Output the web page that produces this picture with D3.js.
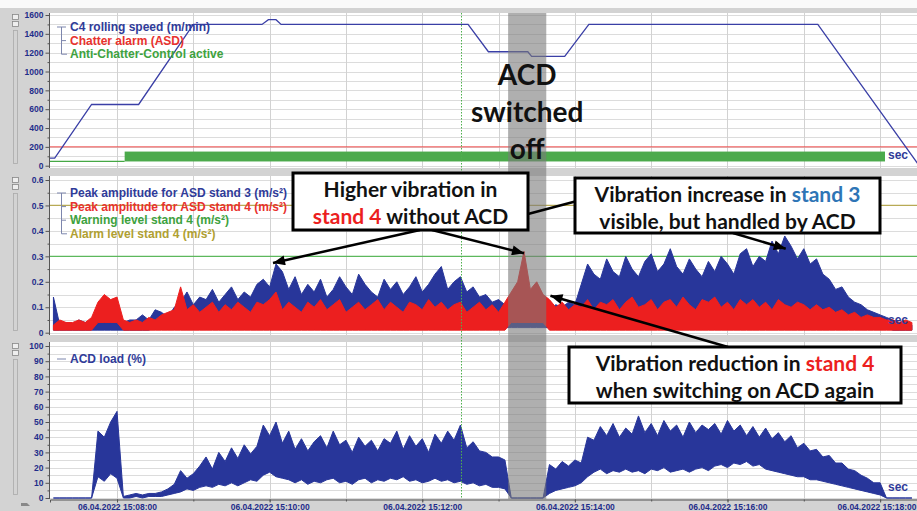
<!DOCTYPE html>
<html>
<head>
<meta charset="utf-8">
<script src="https://cdnjs.cloudflare.com/ajax/libs/d3/7.8.5/d3.min.js"></script>
<style>
  body { margin: 0; background: #fff; }
  svg { display: block; }
  .axis text { font-family: "Liberation Sans", Arial, sans-serif; font-weight: bold; font-size: 8.5px; fill: #1f2d8a; }
  .axis path, .axis line { stroke: #555; }
  .legend { font-family: "Liberation Sans", Arial, sans-serif; font-weight: bold; font-size: 12px; }
  .note { font-family: Lato, "Open Sans", sans-serif; font-weight: bold; }
</style>
</head>
<body>
<script>
const w = 917;
const h = 511;

// all times are seconds after 06.04.2022 15:07:00
const t0 = new Date(2022, 3, 6, 15, 7, 0);
const sec = s => new Date(t0.getTime() + s * 1000);

// ---- panel 1: rolling speed ----
const speedSec = [7, 11, 40, 77, 120, 174, 179, 185, 189, 336, 352, 383, 386, 412, 431, 611, 690];
const speedVal = [80, 80, 650, 650, 1500, 1500, 1550, 1550, 1500, 1500, 1210, 1210, 1160, 1160, 1500, 1500, 15];
const chatterAlarm = 200;
const acdActiveFrom = 66;
const speedTicks = [0, 200, 400, 600, 800, 1000, 1200, 1400, 1600];

// ---- sampled signals (one value every 5 s from 15:07:10) ----
const sampleStart = 10;
const sampleStep = 5;

const stand3Peak = [
  0.14, 0.03, 0.04, 0.03, 0.05, 0.04, 0.04, 0.06, 0.05, 0.04,
  0.06, 0.04, 0.05, 0.05, 0.07, 0.05, 0.09, 0.08, 0.06, 0.10,
  0.12, 0.16, 0.11, 0.14, 0.13, 0.17, 0.12, 0.15, 0.18, 0.13,
  0.16, 0.14, 0.19, 0.21, 0.18, 0.27, 0.24, 0.17, 0.22, 0.15,
  0.19, 0.16, 0.21, 0.14, 0.17, 0.22, 0.18, 0.15, 0.23, 0.19,
  0.16, 0.14, 0.21, 0.17, 0.20, 0.15, 0.18, 0.22, 0.16, 0.19,
  0.23, 0.26, 0.17, 0.20, 0.22, 0.16, 0.18, 0.14, 0.15, 0.12,
  0.13, 0.11, 0.09, 0.10, 0.08, 0.09, 0.10, 0.08, 0.09, 0.11,
  0.10, 0.12, 0.11, 0.19, 0.27, 0.23, 0.21, 0.29, 0.24, 0.22,
  0.30, 0.25, 0.22, 0.28, 0.31, 0.24, 0.27, 0.33, 0.26, 0.23,
  0.29, 0.25, 0.22, 0.28, 0.24, 0.30, 0.27, 0.23, 0.31, 0.33,
  0.26, 0.30, 0.28, 0.36, 0.31, 0.38, 0.34, 0.29, 0.33, 0.27,
  0.29, 0.23, 0.21, 0.17, 0.18, 0.14, 0.12, 0.11, 0.09, 0.08,
  0.07, 0.06, 0.05, 0.04, 0.04, 0.03
];
const stand3Low = [
  0.01, 0.01, 0.01, 0.01, 0.01, 0.01, 0.01, 0.01, 0.01, 0.01,
  0.01, 0.01, 0.01, 0.01, 0.01, 0.01, 0.02, 0.02, 0.02, 0.02,
  0.02, 0.02, 0.02, 0.02, 0.02, 0.02, 0.02, 0.02, 0.02, 0.02,
  0.02, 0.02, 0.02, 0.02, 0.03, 0.03, 0.03, 0.03, 0.03, 0.03,
  0.03, 0.03, 0.03, 0.03, 0.03, 0.03, 0.03, 0.03, 0.03, 0.03,
  0.03, 0.03, 0.03, 0.03, 0.03, 0.03, 0.03, 0.03, 0.03, 0.03,
  0.03, 0.03, 0.03, 0.03, 0.03, 0.03, 0.03, 0.03, 0.03, 0.03,
  0.03, 0.02, 0.02, 0.02, 0.02, 0.02, 0.02, 0.02, 0.02, 0.02,
  0.02, 0.02, 0.02, 0.06, 0.06, 0.06, 0.06, 0.06, 0.06, 0.06,
  0.06, 0.06, 0.06, 0.06, 0.06, 0.06, 0.06, 0.06, 0.06, 0.06,
  0.06, 0.06, 0.06, 0.06, 0.06, 0.06, 0.06, 0.06, 0.06, 0.06,
  0.06, 0.06, 0.06, 0.06, 0.06, 0.06, 0.06, 0.06, 0.06, 0.06,
  0.06, 0.02, 0.02, 0.02, 0.02, 0.02, 0.02, 0.02, 0.02, 0.02,
  0.02, 0.02, 0.01, 0.01, 0.01, 0.01
];
const stand4Peak = [
  0.03, 0.05, 0.04, 0.04, 0.05, 0.04, 0.06, 0.12, 0.15, 0.13,
  0.14, 0.05, 0.04, 0.05, 0.04, 0.06, 0.05, 0.07, 0.08, 0.09,
  0.18, 0.09, 0.11, 0.08, 0.10, 0.12, 0.08, 0.11, 0.09, 0.12,
  0.10, 0.08, 0.12, 0.11, 0.13, 0.16, 0.09, 0.12, 0.10, 0.08,
  0.12, 0.10, 0.13, 0.09, 0.11, 0.13, 0.08, 0.10, 0.12, 0.09,
  0.11, 0.13, 0.09, 0.12, 0.10, 0.08, 0.12, 0.11, 0.09, 0.13,
  0.10, 0.12, 0.09, 0.11, 0.12, 0.08, 0.10, 0.12, 0.09, 0.11,
  0.08, 0.12, 0.16, 0.20, 0.32, 0.17, 0.20, 0.15, 0.13, 0.10,
  0.12, 0.09, 0.11, 0.10, 0.13, 0.09, 0.12, 0.11, 0.13, 0.09,
  0.12, 0.14, 0.10, 0.11, 0.13, 0.09, 0.12, 0.13, 0.10, 0.14,
  0.11, 0.09, 0.13, 0.12, 0.14, 0.10, 0.12, 0.09, 0.13, 0.11,
  0.13, 0.10, 0.12, 0.09, 0.13, 0.11, 0.10, 0.12, 0.11, 0.09,
  0.11, 0.09, 0.10, 0.08, 0.09, 0.07, 0.08, 0.06, 0.07, 0.06,
  0.06, 0.05, 0.05, 0.04, 0.05, 0.04
];
const stand4Low = [
  0.01, 0.01, 0.01, 0.01, 0.01, 0.01, 0.01, 0.04, 0.04, 0.04,
  0.04, 0.01, 0.01, 0.01, 0.01, 0.01, 0.01, 0.01, 0.01, 0.01,
  0.01, 0.01, 0.01, 0.01, 0.01, 0.01, 0.01, 0.01, 0.01, 0.01,
  0.01, 0.01, 0.01, 0.01, 0.01, 0.01, 0.01, 0.01, 0.01, 0.01,
  0.01, 0.01, 0.01, 0.01, 0.01, 0.01, 0.01, 0.01, 0.01, 0.01,
  0.01, 0.01, 0.01, 0.01, 0.01, 0.01, 0.01, 0.01, 0.01, 0.01,
  0.01, 0.01, 0.01, 0.01, 0.01, 0.01, 0.01, 0.01, 0.01, 0.01,
  0.01, 0.01, 0.04, 0.04, 0.04, 0.04, 0.04, 0.04, 0.01, 0.01,
  0.01, 0.01, 0.01, 0.01, 0.01, 0.01, 0.01, 0.01, 0.01, 0.01,
  0.01, 0.01, 0.01, 0.01, 0.01, 0.01, 0.01, 0.01, 0.01, 0.01,
  0.01, 0.01, 0.01, 0.01, 0.01, 0.01, 0.01, 0.01, 0.01, 0.01,
  0.01, 0.01, 0.01, 0.01, 0.01, 0.01, 0.01, 0.01, 0.01, 0.01,
  0.01, 0.01, 0.01, 0.01, 0.01, 0.01, 0.01, 0.01, 0.01, 0.01,
  0.01, 0.01, 0.01, 0.01, 0.01, 0.01
];
const warningLevel = 0.3;
const alarmLevel = 0.5;
const ampTicks = [0, 0.1, 0.2, 0.3, 0.4, 0.5, 0.6];

const acdLoadPeak = [
  0, 0, 0, 0, 0, 0, 0, 44, 40, 50,
  57, 1, 2, 3, 2, 3, 3, 4, 6, 9,
  18, 13, 16, 21, 27, 19, 30, 24, 33, 26,
  35, 29, 34, 48, 41, 50, 36, 44, 32, 39,
  31, 37, 41, 33, 44, 35, 38, 30, 40, 34,
  38, 31, 39, 36, 44, 32, 41, 34, 39, 30,
  42, 36, 44, 38, 48, 33, 37, 31, 30, 27,
  27, 25, 0, 0, 0, 0, 0, 0, 22, 19,
  24, 21, 25, 23, 40, 38, 47, 41, 49, 40,
  46, 42, 54, 43, 49, 41, 51, 44, 48, 40,
  50, 43, 48, 45, 49, 42, 51, 44, 48, 41,
  47, 40, 46, 39, 43, 37, 41, 33, 36, 31,
  32, 27, 28, 23, 23, 19, 18, 15, 13, 10,
  10, 0, 0, 0, 0, 0
];
const acdLoadLow = [
  0, 0, 0, 0, 0, 0, 0, 14, 11, 16,
  13, 0, 0, 1, 0, 1, 1, 1, 2, 3,
  4, 6, 5, 7, 8, 7, 9, 8, 10, 8,
  10, 12, 11, 15, 17, 14, 13, 12, 10, 12,
  9, 11, 10, 12, 13, 10, 11, 9, 12, 13,
  10, 12, 11, 13, 12, 14, 11, 12, 10, 11,
  13, 11, 12, 10, 11, 9, 10, 8, 9, 7,
  7, 6, 0, 0, 0, 0, 0, 0, 3, 5,
  6, 7, 8, 10, 14, 17, 19, 16, 18, 17,
  19, 17, 18, 16, 19, 18, 20, 17, 18, 19,
  17, 19, 20, 18, 21, 22, 20, 23, 22, 24,
  21, 22, 19, 18, 17, 16, 15, 14, 14, 12,
  12, 11, 10, 9, 8, 7, 6, 5, 4, 3,
  2, 0, 0, 0, 0, 0
];
const loadTicks = [0, 10, 20, 30, 40, 50, 60, 70, 80, 90, 100];

// events
const acdOff = [367.5, 397.5];
const cursorSec = 330.5;

const sampleTimes = stand3Peak.map((d, i) => sec(sampleStart + i * sampleStep));

// colours
const navy = "#28369a";
const red = "#ec1f1f";
const green = "#45a845";

const svg = d3.select("body")
    .append("svg")
    .attr("width", w)
    .attr("height", h);

svg.append("rect").attr("width", w).attr("height", h).attr("fill", "#d3d3d3");
svg.append("rect").attr("width", w).attr("height", 8).attr("fill", "#fafafa");

const x = d3.scaleTime().domain([sec(7.3), sec(689)]).range([50, w]);

const y1 = d3.scaleLinear().domain([0, 1600]).range([165.7, 15]);
const y2 = d3.scaleLinear().domain([0, 0.6]).range([332.7, 180]);
const y3 = d3.scaleLinear().domain([0, 100]).range([498, 346]);

const panels = [
    { id: "p1", top: 13, bottom: 168, y: y1, grid: d3.range(0, 1601, 100), ticks: speedTicks, minor: d3.range(100, 1600, 200), fmt: d3.format("d") },
    { id: "p2", top: 176, bottom: 335, y: y2, grid: d3.range(0, 0.61, 0.05), ticks: ampTicks, minor: d3.range(0.05, 0.6, 0.1), fmt: d => d === 0 ? "0" : d.toFixed(1) },
    { id: "p3", top: 342, bottom: 499, y: y3, grid: d3.range(0, 101, 5), ticks: loadTicks, minor: d3.range(5, 100, 10), fmt: d3.format("d") }
];

const defs = svg.append("defs");
const minutes = x.ticks(d3.timeMinute.every(1));

// panel backgrounds + grid
panels.forEach(p => {
    defs.append("clipPath").attr("id", "clip-" + p.id)
        .append("rect").attr("x", 50).attr("y", p.top).attr("width", w - 50).attr("height", p.bottom - p.top);

    svg.append("rect")
        .attr("x", 50).attr("y", p.top)
        .attr("width", w - 50).attr("height", p.bottom - p.top)
        .attr("fill", "#fff");

    const g = svg.append("g").attr("clip-path", "url(#clip-" + p.id + ")");
    g.selectAll(".hg").data(p.grid).enter().append("line")
        .attr("x1", 50).attr("x2", w)
        .attr("y1", d => Math.round(p.y(d)) + 0.5).attr("y2", d => Math.round(p.y(d)) + 0.5)
        .attr("stroke", "#dcdcdc");
    g.selectAll(".vg").data(minutes).enter().append("line")
        .attr("x1", d => Math.round(x(d)) + 0.5).attr("x2", d => Math.round(x(d)) + 0.5)
        .attr("y1", p.top).attr("y2", p.bottom)
        .attr("stroke", "#d2d2d2");
    p.g = g;
});

// ---- panel 1 ----
const g1 = panels[0].g;
g1.append("line")
    .attr("x1", 50).attr("x2", w)
    .attr("y1", y1(chatterAlarm)).attr("y2", y1(chatterAlarm))
    .attr("stroke", "#f04848").attr("stroke-width", 1);

g1.append("line")
    .attr("x1", x(sec(7.3))).attr("x2", x(sec(acdActiveFrom)))
    .attr("y1", y1(45)).attr("y2", y1(45))
    .attr("stroke", green).attr("stroke-width", 1.2);
g1.append("rect")
    .attr("x", x(sec(acdActiveFrom)))
    .attr("y", y1(150))
    .attr("width", x(sec(689)) - x(sec(acdActiveFrom)))
    .attr("height", y1(45) - y1(150))
    .attr("fill", "#4caa4c");

// white box behind the "sec" unit
g1.append("rect").attr("x", 885).attr("y", 148).attr("width", 32).attr("height", 14).attr("fill", "#fff");

g1.append("path")
    .datum(speedSec.map((s, i) => [sec(s), speedVal[i]]))
    .attr("fill", "none")
    .attr("stroke", "#3a3fa6")
    .attr("stroke-width", 1.3)
    .attr("d", d3.line().x(d => x(d[0])).y(d => y1(d[1])));

// ---- panel 2 ----
const g2 = panels[1].g;
[[alarmLevel, "#b8aa55"], [warningLevel, "#5cb85c"]].forEach(l => {
    g2.append("line")
        .attr("x1", 50).attr("x2", w)
        .attr("y1", y2(l[0])).attr("y2", y2(l[0]))
        .attr("stroke", l[1]).attr("stroke-width", 1.2);
});

let band = function(g, y, peak, low, colour) {
    g.append("path")
        .datum(peak)
        .attr("fill", colour)
        .attr("stroke", colour)
        .attr("stroke-width", 1)
        .attr("d", d3.area()
            .x((d, i) => x(sampleTimes[i]))
            .y0((d, i) => y(low[i]))
            .y1(d => y(d)));
};

band(g2, y2, stand3Peak, stand3Low, navy);
band(g2, y2, stand4Peak, stand4Low, red);

// ---- panel 3 ----
const g3 = panels[2].g;
band(g3, y3, acdLoadPeak, acdLoadLow, navy);

// cursor
svg.append("line")
    .attr("x1", Math.round(x(sec(cursorSec))) + 0.5).attr("x2", Math.round(x(sec(cursorSec))) + 0.5)
    .attr("y1", 13).attr("y2", 499)
    .attr("stroke", "#4fb04f").attr("stroke-width", 1)
    .attr("stroke-dasharray", "1.5,1.5");

// ---- axes ----
panels.forEach(p => {
    svg.append("g").attr("class", "axis")
        .attr("transform", "translate(49.5,0)")
        .call(d3.axisLeft(p.y).tickValues(p.ticks).tickSize(4).tickPadding(2).tickFormat(p.fmt))
        .call(g => g.select(".domain").attr("d", "M0," + p.top + "V" + p.bottom));
    svg.append("g").attr("class", "axis")
        .attr("transform", "translate(49.5,0)")
        .call(d3.axisLeft(p.y).tickValues(p.minor).tickSize(2).tickFormat(""))
        .call(g => g.select(".domain").remove());

    // little scroll widgets on the far left
    const sw = svg.append("g").attr("fill", "#eee").attr("stroke", "#888").attr("stroke-width", 0.8);
    sw.append("rect").attr("x", 12.5).attr("y", p.top + 1.5).attr("width", 6).attr("height", 5);
    sw.append("rect").attr("x", 12.5).attr("y", p.top + 8.5).attr("width", 6).attr("height", 5);
    sw.append("rect").attr("x", 13.5).attr("y", p.top + 17.5).attr("width", 4).attr("height", p.bottom - p.top - 22)
        .attr("fill", "none").attr("stroke", "#aaa");
});

const xAxis = svg.append("g").attr("class", "axis")
    .attr("transform", "translate(0,499.5)")
    .call(d3.axisBottom(x).ticks(d3.timeMinute.every(2)).tickSize(3).tickPadding(1)
        .tickFormat(d3.timeFormat("%d.%m.%Y %H:%M:%S")));
// the last label sits against the right edge
xAxis.selectAll(".tick:last-of-type text").attr("text-anchor", "end").attr("x", w - 1 - x(sec(660)));
svg.append("g").attr("class", "axis")
    .attr("transform", "translate(0,499.5)")
    .call(d3.axisBottom(x).ticks(d3.timeMinute.every(1)).tickSize(2).tickFormat(""))
    .call(g => g.select(".domain").remove());

// ---- legends ----
let legend = function(items, top, bracket) {
    const g = svg.append("g");
    if (bracket) {
        const yl = items.map((d, i) => top + i * 13.6 - 4);
        g.append("path")
            .attr("d", "M57," + yl[0] + "H66M61.5," + yl[0] + "V" + yl[yl.length - 1] + "H67" +
                yl.slice(1, -1).map(v => "M61.5," + v + "H66").join(""))
            .attr("fill", "none").attr("stroke", "#7d86ad").attr("stroke-width", 1);
    } else {
        g.append("line").attr("x1", 57).attr("x2", 66).attr("y1", top - 4).attr("y2", top - 4)
            .attr("stroke", "#7d86ad");
    }
    g.selectAll("text").data(items).enter().append("text")
        .attr("class", "legend")
        .attr("x", 70)
        .attr("y", (d, i) => top + i * 13.6)
        .attr("fill", d => d[1])
        .text(d => d[0]);
};

legend([["C4 rolling speed (m/min)", "#2f3b99"], ["Chatter alarm (ASD)", "#e8322e"], ["Anti-Chatter-Control active", "#3ea23e"]], 31, true);
legend([["Peak amplitude for ASD stand 3 (m/s²)", "#2f3b99"], ["Peak amplitude for ASD stand 4 (m/s²)", "#e8322e"],
        ["Warning level stand 4 (m/s²)", "#3ea23e"], ["Alarm level stand 4 (m/s²)", "#b0a032"]], 197, true);
legend([["ACD load (%)", "#2f3b99"]], 363, false);

// "sec" unit labels
[158.5, 324, 491].forEach(s => {
    svg.append("text").attr("class", "legend")
        .attr("x", 888).attr("y", s)
        .attr("font-size", 11).attr("fill", "#2f3b99")
        .text("sec");
});

// ---- ACD switched off window ----
svg.append("rect")
    .attr("x", x(sec(acdOff[0])))
    .attr("y", 13)
    .attr("width", x(sec(acdOff[1])) - x(sec(acdOff[0])))
    .attr("height", 499 - 13)
    .attr("fill", "#7a7a7a")
    .attr("opacity", 0.6);

const offX = x(sec((acdOff[0] + acdOff[1]) / 2));
["ACD", "switched", "off"].forEach((t, i) => {
    svg.append("text").attr("class", "note")
        .attr("x", offX).attr("y", 85 + i * 37)
        .attr("text-anchor", "middle")
        .attr("font-size", 28)
        .attr("fill", "#111")
        .text(t);
});

// ---- callouts ----
defs.append("marker")
    .attr("id", "arrow")
    .attr("viewBox", "0 0 12 10")
    .attr("refX", 12).attr("refY", 5)
    .attr("markerUnits", "userSpaceOnUse")
    .attr("markerWidth", 13).attr("markerHeight", 10)
    .attr("orient", "auto")
    .append("path").attr("d", "M0,0L12,5L0,10z").attr("fill", "#000");

let arrow = function(from, tip, head) {
    svg.append("line")
        .attr("x1", from[0]).attr("y1", from[1])
        .attr("x2", tip[0]).attr("y2", tip[1])
        .attr("stroke", "#000").attr("stroke-width", 2.5)
        .attr("marker-end", head ? "url(#arrow)" : null);
};

let callout = function(box, lines) {
    const g = svg.append("g");
    g.append("rect")
        .attr("x", box[0]).attr("y", box[1])
        .attr("width", box[2]).attr("height", box[3])
        .attr("fill", "#fff").attr("stroke", "#000").attr("stroke-width", 3);
    lines.forEach((parts, i) => {
        const t = g.append("text").attr("class", "note")
            .attr("x", box[0] + box[2] / 2)
            .attr("y", box[1] + 24 + i * 27)
            .attr("text-anchor", "middle")
            .attr("font-size", 21);
        parts.forEach(p => t.append("tspan").attr("fill", p[1] || "#111").text(p[0]));
    });
};

arrow([577, 201], [528, 214], false);
arrow([420, 230], [x(sampleTimes[35]) - 3, y2(stand3Peak[35]) - 1], true);
arrow([432, 230], [x(sampleTimes[74]), y2(stand4Peak[74]) + 2], true);
arrow([733, 233], [x(sampleTimes[115]) + 1, y2(0.33)], true);
arrow([728, 347], [x(sampleTimes[78]) + 1, y2(0.145)], true);

callout([293, 173, 235, 57], [[["Higher vibration in"]], [["stand 4", red], [" without ACD"]]]);
callout([575, 178, 305, 55], [[["Vibration increase in "], ["stand 3", "#2e75b6"]], [["visible, but handled by ACD"]]]);
callout([569, 347, 332, 56], [[["Vibration reduction in "], ["stand 4", red]], [["when switching on ACD again"]]]);

// small icon bottom left
svg.append("path").attr("d", "M21,503h6l3,3h-9z").attr("fill", "#888");
</script>
</body>
</html>
